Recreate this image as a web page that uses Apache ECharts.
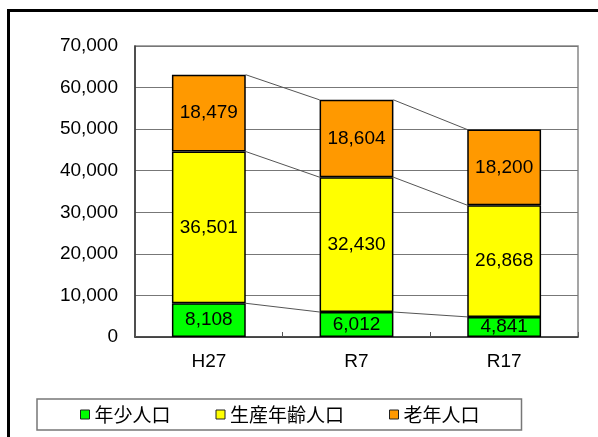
<!DOCTYPE html>
<html>
<head>
<meta charset="utf-8">
<script src="https://cdn.jsdelivr.net/npm/echarts@6/dist/echarts.min.js"></script>
<style>
html,body{margin:0;padding:0;background:#fff;}
#c{width:598px;height:437px;}
</style>
</head>
<body>
<div id="c"></div>
<script>
const categories = ['H27', 'R7', 'R17'];
const youth = [8108, 6012, 4841];
const working = [36501, 32430, 26868];
const elderly = [18479, 18604, 18200];
const seriesNames = ['年少人口', '生産年齢人口', '老年人口'];
const yTicks = { min: 0, max: 70000, interval: 10000 };

const fmt = v => Number(v).toLocaleString('en-US');
const font = 'Liberation Sans';
const stacks = [youth, working, elderly];
const colors = ['#00ff00', '#ffff00', '#ff9900'];

const chart = echarts.init(document.getElementById('c'), null, { renderer: 'canvas' });

const barSeries = stacks.map((arr, k) => ({
  name: seriesNames[k],
  type: 'bar',
  stack: 'pop',
  barWidth: '50%',
  data: arr,
  itemStyle: { color: colors[k], borderColor: '#000', borderWidth: 1.5 },
  label: {
    show: true, position: 'inside', color: '#000',
    fontFamily: font, fontSize: 19,
    formatter: p => fmt(p.value)
  },
  z: 3
}));

const lineSeries = {
  type: 'custom',
  name: 'series-lines',
  silent: true,
  data: categories.slice(0, -1).map((c, i) => [i]),
  encode: { x: 0 },
  renderItem: function (params, api) {
    const i = api.value(0);
    const hw = api.size([1, 0])[0] * 0.25;
    const children = [];
    let c1 = 0, c2 = 0;
    for (let k = 0; k < stacks.length; k++) {
      c1 += stacks[k][i];
      c2 += stacks[k][i + 1];
      const p1 = api.coord([i, c1]);
      const p2 = api.coord([i + 1, c2]);
      children.push({
        type: 'line',
        shape: { x1: p1[0] + hw, y1: p1[1], x2: p2[0] - hw, y2: p2[1] },
        style: { stroke: '#555', lineWidth: 1 }
      });
    }
    return { type: 'group', children: children };
  },
  z: 2
};

chart.setOption({
  animation: false,
  backgroundColor: '#fff',
  graphic: [{
    type: 'rect',
    shape: { x: 8.5, y: 10.5, width: 620, height: 460 },
    style: { fill: 'none', stroke: '#000', lineWidth: 3 },
    z: 100
  }],
  grid: {
    left: 135, right: 20, top: 46, bottom: 100,
    show: true, borderColor: '#888', borderWidth: 1.5
  },
  legend: {
    data: seriesNames,
    left: 37, top: 399,
    padding: [5, 42, 5, 43],
    itemGap: 45,
    itemWidth: 9, itemHeight: 9,
    icon: 'rect',
    borderColor: '#777', borderWidth: 1.5,
    textStyle: { fontFamily: 'Noto Sans CJK JP', fontSize: 19, color: '#000', lineHeight: 21 },
    itemStyle: { borderColor: '#222', borderWidth: 1 }
  },
  xAxis: {
    type: 'category',
    data: categories,
    axisLine: { lineStyle: { color: '#333', width: 1.5 } },
    axisTick: { show: true, inside: true, length: 5, lineStyle: { color: '#555' } },
    axisLabel: { color: '#000', fontFamily: font, fontSize: 19, margin: 15 },
    splitLine: { show: false }
  },
  yAxis: {
    type: 'value',
    min: yTicks.min, max: yTicks.max, interval: yTicks.interval,
    axisLine: { show: true, lineStyle: { color: '#333', width: 1.5 } },
    axisTick: { show: false },
    axisLabel: { color: '#000', fontFamily: font, fontSize: 19, margin: 17, formatter: v => fmt(v) },
    splitLine: { lineStyle: { color: '#777', width: 1.2 } }
  },
  series: [...barSeries, lineSeries]
});
</script>
</body>
</html>
